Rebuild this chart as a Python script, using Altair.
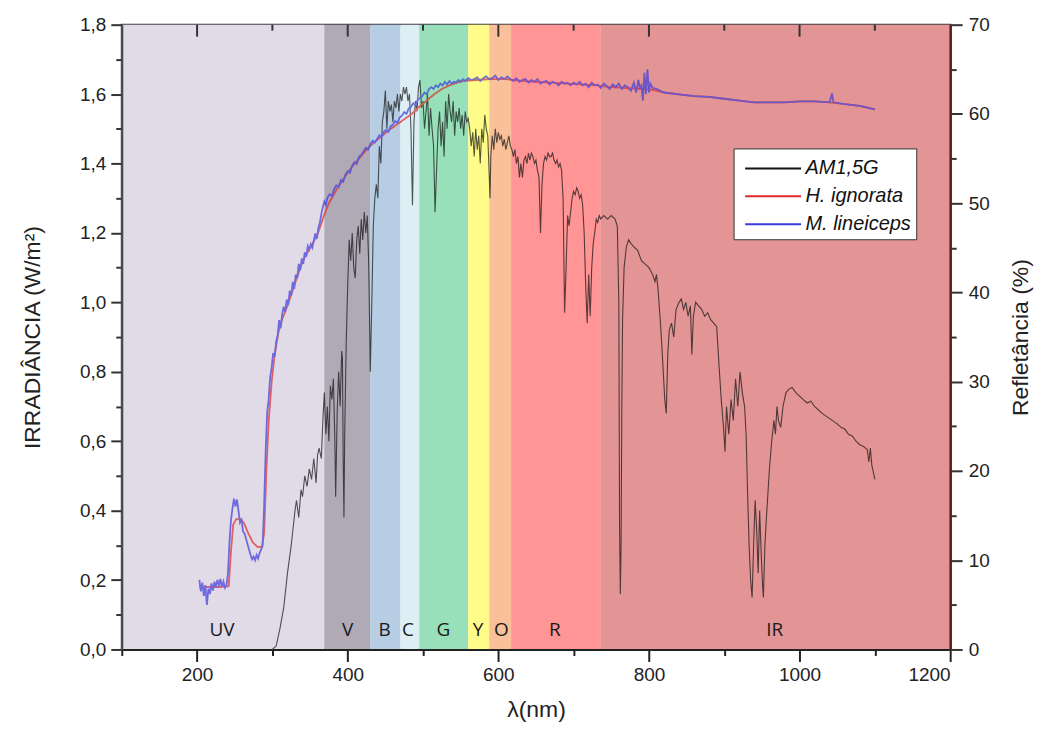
import altair as alt
import pandas as pd

# ---------------- data ----------------
band_names = ["UV", "V", "B", "C", "G", "Y", "O", "R", "IR"]
band_start = [100, 369, 430, 470, 495, 560, 588, 617, 736]
band_end = [369, 430, 470, 495, 560, 588, 617, 736, 1200]
band_colors = ["#e1dae7", "#b1aab7", "#b6cde3", "#dfeef5", "#99e0b9",
               "#fffd8a", "#f9c09a", "#ff9696", "#e39595"]
band_label_x = [233, 400, 449, 480, 527, 573, 604, 675, 967]
band_label_y = 0.057

am_nm = [300, 305, 310, 315, 320, 325, 327, 330, 332, 335, 338, 340, 343, 346, 349, 352, 355, 358, 360, 362,
         365, 367, 369, 371, 373, 375, 377, 379, 381, 383, 384, 386, 388, 390, 392, 393, 394, 395, 396, 398,
         400, 402, 404, 406, 408, 410, 412, 414, 416, 418, 420, 422, 424, 426, 428, 430, 432, 434, 436, 438,
         440, 442, 444, 446, 448, 450, 452, 454, 456, 458, 460, 462, 464, 466, 468, 470, 472, 474, 476, 478,
         480, 482, 484, 486, 488, 490, 492, 494, 496, 498, 500, 502, 504, 506, 508, 510, 512, 514, 516, 518,
         520, 522, 524, 526, 528, 530, 532, 534, 536, 538, 540, 542, 544, 546, 548, 550, 552, 554, 556, 558,
         560, 562, 564, 566, 568, 570, 572, 574, 576, 578, 580, 582, 584, 586, 588, 589, 590, 592, 594, 596,
         598, 600, 602, 604, 606, 608, 610, 612, 614, 616, 618, 620, 622, 624, 626, 628, 630, 632, 634, 636,
         638, 640, 642, 644, 646, 648, 650, 652, 654, 656, 658, 660, 662, 664, 666, 668, 670, 672, 674, 676,
         678, 680, 682, 684, 686, 688, 690, 692, 694, 696, 698, 700, 702, 704, 706, 708, 710, 712, 714, 716,
         718, 720, 722, 724, 726, 728, 730, 732, 734, 736, 740, 745, 750, 755, 758, 760, 761, 762, 763, 764,
         765, 767, 770, 773, 776, 780, 785, 790, 795, 800, 805, 808, 810, 812, 815, 817, 819, 821, 823, 825,
         827, 830, 833, 836, 840, 843, 846, 849, 852, 855, 857, 859, 862, 866, 870, 874, 878, 882, 886, 890,
         893, 896, 899, 901, 903, 906, 909, 912, 915, 918, 921, 924, 927, 929, 931, 933, 935, 937, 939, 941,
         943, 945, 947, 949, 951, 952, 954, 956, 958, 960, 963, 966, 968, 970, 972, 975, 978, 982, 986, 990,
         995, 1000, 1005, 1010, 1015, 1020, 1025, 1030, 1040, 1050, 1055, 1060, 1065, 1070, 1075, 1080, 1085,
         1090, 1092, 1094, 1096, 1098, 1100]
am_val = [0.0, 0.01, 0.06, 0.12, 0.22, 0.30, 0.34, 0.40, 0.43, 0.38, 0.46, 0.44, 0.50, 0.47, 0.52, 0.49, 0.55, 0.48, 0.56, 0.58,
          0.55, 0.66, 0.74, 0.62, 0.70, 0.60, 0.76, 0.72, 0.78, 0.60, 0.44, 0.68, 0.80, 0.70, 0.86, 0.84, 0.55, 0.38, 0.62, 0.88,
          1.05, 1.18, 1.12, 1.20, 1.10, 1.07, 1.18, 1.22, 1.14, 1.24, 1.18, 1.26, 1.20, 1.25, 1.10, 0.80, 1.00, 1.22, 1.30, 1.34,
          1.30, 1.45, 1.40, 1.52, 1.55, 1.61, 1.50, 1.58, 1.55, 1.57, 1.52, 1.58, 1.56, 1.60, 1.55, 1.60, 1.58, 1.62, 1.60, 1.62,
          1.58, 1.60, 1.50, 1.28, 1.52, 1.58, 1.55, 1.62, 1.64, 1.56, 1.58, 1.50, 1.55, 1.60, 1.48, 1.56, 1.50, 1.45, 1.26, 1.38,
          1.50, 1.55, 1.45, 1.52, 1.42, 1.58, 1.50, 1.60, 1.55, 1.52, 1.58, 1.48, 1.55, 1.52, 1.56, 1.50, 1.54, 1.48, 1.55, 1.52,
          1.53, 1.50, 1.45, 1.49, 1.42, 1.50, 1.44, 1.48, 1.40, 1.50, 1.46, 1.54, 1.50, 1.48, 1.36, 1.30, 1.42, 1.48, 1.44, 1.50,
          1.46, 1.49, 1.47, 1.48, 1.45, 1.47, 1.44, 1.46, 1.48, 1.45, 1.44, 1.42, 1.44, 1.40, 1.42, 1.36, 1.40, 1.36, 1.41, 1.42,
          1.40, 1.43, 1.41, 1.43, 1.42, 1.40, 1.41, 1.38, 1.36, 1.20, 1.34, 1.40, 1.42, 1.41, 1.43, 1.42, 1.42, 1.43, 1.41, 1.40,
          1.41, 1.39, 1.40, 1.38, 1.30, 0.97, 1.10, 1.25, 1.22, 1.26, 1.30, 1.32, 1.31, 1.33, 1.32, 1.30, 1.31, 1.28, 1.20, 1.05,
          0.94, 1.08, 0.96, 1.10, 1.17, 1.20, 1.24, 1.23, 1.25, 1.24, 1.25, 1.24, 1.25, 1.24, 1.22, 1.00, 0.35, 0.16, 0.30, 0.70,
          0.95, 1.10, 1.16, 1.18, 1.17, 1.16, 1.15, 1.12, 1.11, 1.10, 1.08, 1.06, 1.08, 1.04, 0.95, 0.88, 0.80, 0.72, 0.68, 0.85,
          0.92, 0.94, 0.90, 0.98, 1.00, 1.01, 0.98, 1.00, 0.96, 0.99, 0.85, 0.96, 1.00, 0.99, 0.98, 0.96, 0.97, 0.95, 0.94, 0.93,
          0.82, 0.72, 0.64, 0.57, 0.70, 0.62, 0.72, 0.66, 0.78, 0.70, 0.80, 0.74, 0.70, 0.62, 0.45, 0.30, 0.20, 0.15, 0.30, 0.43,
          0.35, 0.22, 0.40, 0.28, 0.18, 0.15, 0.30, 0.38, 0.45, 0.52, 0.60, 0.66, 0.62, 0.70, 0.66, 0.64, 0.70, 0.74, 0.75, 0.755,
          0.74, 0.73, 0.72, 0.71, 0.715, 0.70, 0.69, 0.68, 0.665, 0.65, 0.64, 0.635, 0.62, 0.615, 0.60, 0.59, 0.585,
          0.575, 0.54, 0.58, 0.53, 0.51, 0.49]

hi_nm = [203, 215, 230, 242, 245, 248, 252, 258, 262, 268, 274, 280, 286, 289, 292, 295, 299, 303, 308, 313,
         320, 330, 340, 350, 360, 368, 375, 385, 395, 405, 415, 425, 435, 445, 455, 465, 475, 485, 495, 505,
         515, 525, 535, 545, 555, 570, 590, 610, 630, 650, 670, 690, 710, 730, 750, 770, 790, 805, 820, 840,
         860, 880, 900, 920, 940, 960, 980, 1000, 1020, 1040, 1060, 1080, 1100]
hi_val = [7.0, 7.0, 7.0, 7.1, 11.0, 14.0, 14.6, 14.6, 14.2, 13.0, 12.0, 11.5, 11.5, 13.0, 20.0, 25.5, 30.0, 33.0, 35.5, 37.0,
          38.5, 41.0, 43.5, 45.0, 46.5, 48.5, 50.0, 51.5, 52.8, 54.0, 55.0, 56.0, 56.8, 57.5, 58.2, 58.8, 59.4, 60.0, 60.8, 61.5,
          62.2, 62.8, 63.2, 63.5, 63.7, 63.8, 63.9, 63.9, 63.7, 63.6, 63.5, 63.4, 63.3, 63.2, 63.0, 62.9, 62.8, 62.7, 62.4, 62.2,
          62.0, 61.9, 61.7, 61.5, 61.3, 61.3, 61.3, 61.4, 61.4, 61.3, 61.1, 60.9, 60.5]

ml_nm = [203, 205, 207, 209, 211, 213, 215, 217, 219, 221, 223, 225, 227, 229, 231, 233, 235, 237, 239, 241,
         243, 245, 247, 249, 251, 253, 255, 257, 259, 261, 263, 265, 267, 269, 271, 273, 275, 277, 279, 281,
         283, 285, 287, 289, 291, 293, 295, 297, 299, 301, 303, 305, 307, 309, 311, 313, 315, 317, 319, 321,
         323, 325, 327, 329, 331, 333, 335, 337, 339, 341, 343, 345, 347, 349, 351, 353, 355, 357, 359, 361,
         363, 365, 367, 369, 371, 373, 376, 379, 382, 385, 388, 391, 394, 397, 400, 403, 406, 409, 412, 415,
         418, 421, 424, 427, 430, 433, 436, 439, 442, 445, 448, 451, 454, 457, 460, 463, 466, 469, 472, 475,
         478, 481, 484, 487, 490, 493, 496, 499, 502, 505, 508, 511, 514, 517, 520, 523, 526, 529, 532, 535,
         538, 541, 544, 547, 550, 553,
         556, 560, 564, 568, 572, 576, 580, 584, 588, 592, 596, 600, 604, 608, 612, 616, 620, 624, 628, 632,
         636, 640, 644, 648, 652, 656, 660, 664, 668, 672, 676, 680, 684, 688, 692, 696, 700, 704, 708, 712,
         716, 720, 724, 728, 732, 736, 740, 744, 748, 752, 756, 760, 764, 768, 772, 776, 780,
         783, 786, 788, 790, 792, 794, 796, 798, 800, 802, 805,
         810, 820, 840, 860, 880, 900, 920, 940, 960, 980, 1000, 1020, 1040, 1043, 1045, 1060, 1080, 1100]
ml_val = [7.8, 6.5, 7.5, 6.0, 7.2, 5.0, 6.8, 6.2, 7.4, 6.6, 7.6, 7.0, 7.8, 7.2, 7.9, 7.0, 7.6, 6.9, 7.2, 8.5,
          12.0, 14.5, 15.8, 16.9, 16.0, 16.8, 15.5, 14.2, 14.5, 13.2, 13.0, 12.4, 11.8, 11.2, 10.6, 10.1, 10.4, 10.0, 10.6, 10.2,
          10.8, 11.2, 11.6, 16.0, 22.0, 26.5, 28.0, 30.5, 31.6, 33.2, 32.8, 34.5, 35.2, 36.9, 36.0, 37.6, 38.4, 37.8, 39.2, 38.6,
          40.2, 39.6, 41.2, 40.4, 42.0, 41.6, 43.2, 42.5, 43.8, 43.2, 44.5, 44.0, 45.2, 44.8, 45.4, 45.0, 45.8, 46.6, 46.0, 47.2,
          47.8, 48.8, 49.6, 50.2, 49.8, 50.6, 51.0, 50.8, 51.6, 52.0, 51.8, 52.6, 52.4, 53.2, 53.6, 53.4, 54.2, 54.6, 54.4, 55.2,
          55.4, 55.8, 56.2, 56.0, 56.6, 57.0, 56.8, 57.2, 57.6, 57.4, 58.0, 58.2, 58.0, 58.6, 58.8, 59.2, 59.0, 59.6, 59.8, 60.2,
          60.0, 60.6, 60.8, 61.2, 61.0, 61.6, 61.8, 62.0, 62.4, 62.2, 62.8, 63.0, 62.8, 63.2, 63.0, 63.4, 63.2, 63.6, 63.3, 63.7,
          63.4, 63.6, 63.5, 63.8, 63.6, 63.9,
          63.7, 64.0, 63.8, 63.9, 64.1, 63.7, 64.0, 64.2, 63.9, 64.0, 64.3, 63.8, 64.1, 63.9, 64.2, 63.9, 63.7, 64.0, 63.6, 63.8,
          63.9, 63.5, 63.8, 63.6, 63.9, 63.4, 63.6, 63.7, 63.3, 63.6, 63.5, 63.2, 63.6, 63.4, 63.5, 63.2, 63.5, 63.3, 63.6, 63.2,
          63.4, 63.0, 63.5, 63.2, 63.3, 62.9, 63.4, 63.1, 62.8, 63.3, 63.0, 63.4, 62.8, 63.2, 63.0, 62.6, 63.5,
          62.4, 63.8, 62.9, 63.2, 61.5, 64.6, 62.2, 65.0, 62.4, 63.4, 62.9,
          62.8, 62.4, 62.2, 62.0, 61.9, 61.7, 61.5, 61.3, 61.3, 61.3, 61.4, 61.4, 61.3, 62.3, 61.3, 61.1, 60.9, 60.5]

series_names = ["AM1,5G", "H. ignorata", "M. lineiceps"]
series_colors = ["#111111", "#e02a2a", "#3b3bdc"]

left_ticks = [0.0, 0.1, 0.2, 0.3, 0.4, 0.5, 0.6, 0.7, 0.8, 0.9, 1.0, 1.1, 1.2, 1.3, 1.4, 1.5, 1.6, 1.7, 1.8]
right_ticks = [0, 5, 10, 15, 20, 25, 30, 35, 40, 45, 50, 55, 60, 65, 70]
x_ticks = [100, 200, 300, 400, 500, 600, 700, 800, 900, 1000, 1100, 1200]
top_major = [200, 400, 600, 800, 1000]
top_minor = [300, 500, 700, 900, 1100]

# ---------------- tables ----------------
bands = pd.DataFrame({"band": band_names, "start": band_start, "end": band_end,
                      "col": band_colors, "lx": band_label_x})
am = pd.DataFrame({"nm": am_nm, "val": am_val, "series": "AM1,5G"})
refl = pd.concat([
    pd.DataFrame({"nm": hi_nm, "val": hi_val, "series": "H. ignorata", "o": 1}),
    pd.DataFrame({"nm": ml_nm, "val": ml_val, "series": "M. lineiceps", "o": 2}),
])
top_major_df = pd.DataFrame({"nm": top_major})
top_minor_df = pd.DataFrame({"nm": top_minor})

FONT = "Liberation Sans"
xscale = alt.Scale(domain=[100, 1200], nice=False, zero=False)
color = alt.Color("series:N",
                  scale=alt.Scale(domain=series_names, range=series_colors),
                  legend=alt.Legend(title=None, orient="none", legendX=613, legendY=124,
                                    symbolType="M-0.6,0H3.4", symbolSize=784, symbolStrokeWidth=2,
                                    labelFont=FONT, labelFontSize=20, labelFontStyle="italic",
                                    labelColor="#111", strokeColor="#333", fillColor="white",
                                    padding=5, rowPadding=3, labelOffset=37, cornerRadius=0))

x_axis = alt.Axis(title="λ(nm)", values=x_ticks, format="d",
                  labelExpr="datum.value % 200 == 0 ? datum.label : ''",
                  tickSize={"condition": {"test": "datum.value % 200 == 0", "value": 12}, "value": 6},
                  labelFontSize=19, titleFontSize=23, titlePadding=14, labelPadding=4,
                  labelFont=FONT, titleFont=FONT, titleFontWeight="normal",
                  domainColor="#222", domainWidth=2, tickColor="#222", tickWidth=2,
                  labelColor="#222", titleColor="#222", grid=False, zindex=2)

base_bands = alt.Chart(bands).mark_rect().encode(
    x=alt.X("start:Q", scale=xscale, axis=x_axis),
    x2="end:Q",
    fill=alt.Fill("col:N", scale=None),
)

left_axis = alt.Axis(title="IRRADIÂNCIA (W/m²)", values=left_ticks,
                     labelExpr="round(datum.value*10) % 2 == 0 ? replace(format(datum.value, '.1f'), '.', ',') : ''",
                     tickSize={"condition": {"test": "round(datum.value*10) % 2 == 0", "value": 11}, "value": 6},
                     labelFontSize=19, titleFontSize=23, titlePadding=35, labelPadding=5,
                     labelFont=FONT, titleFont=FONT, titleFontWeight="normal",
                     domainColor="#4a4452", domainWidth=2, tickColor="#333", tickWidth=2,
                     labelColor="#222", titleColor="#222", grid=False, zindex=2)

am_line = alt.Chart(am).mark_line(strokeWidth=1.1).encode(
    x=alt.X("nm:Q", scale=xscale),
    y=alt.Y("val:Q", scale=alt.Scale(domain=[0, 1.8], nice=False), axis=left_axis),
    color=color,
)

left_layer = alt.layer(base_bands, am_line)

right_axis = alt.Axis(title="Refletância (%)", orient="right", values=right_ticks,
                      labelExpr="datum.value % 10 == 0 ? datum.label : ''",
                      tickSize={"condition": {"test": "datum.value % 10 == 0", "value": 12}, "value": 6},
                      labelFontSize=19, titleFontSize=23, titlePadding=20, labelPadding=6,
                      titleAngle=270, titleBaseline="top",
                      labelFont=FONT, titleFont=FONT, titleFontWeight="normal",
                      domainColor="#5a1c1c", domainWidth=2.5, tickColor="#333", tickWidth=2,
                      labelColor="#222", titleColor="#222", grid=False, zindex=2)

refl_lines = alt.Chart(refl).mark_line(strokeWidth=1.8).encode(
    x=alt.X("nm:Q", scale=xscale),
    y=alt.Y("val:Q", scale=alt.Scale(domain=[0, 70], nice=False), axis=right_axis),
    color=color,
    detail="series:N",
    order=alt.Order("o:Q"),
)

overlay = alt.Chart(bands).mark_rect(opacity=0.3).encode(
    x=alt.X("start:Q", scale=xscale),
    x2="end:Q",
    fill=alt.Fill("col:N", scale=None),
)

labels = alt.Chart(bands).mark_text(font="Open Sans", fontSize=19, color="#1a1a1a",
                                    baseline="middle").encode(
    x=alt.X("lx:Q", scale=xscale),
    y=alt.Y("y:Q", scale=alt.Scale(domain=[0, 1.8], nice=False), axis=None),
    text="band:N",
).transform_calculate(y=str(band_label_y))

top_ticks_major = alt.Chart(top_major_df).mark_rule(color="#333", strokeWidth=2).encode(
    x=alt.X("nm:Q", scale=xscale),
    y=alt.value(0),
    y2=alt.value(12),
)
top_ticks_minor = alt.Chart(top_minor_df).mark_rule(color="#333", strokeWidth=2).encode(
    x=alt.X("nm:Q", scale=xscale),
    y=alt.value(0),
    y2=alt.value(6),
)

chart = alt.layer(left_layer, refl_lines, overlay, labels, top_ticks_major, top_ticks_minor).resolve_scale(
    y="independent"
).properties(
    width=830, height=626,
    autosize=alt.AutoSizeParams(type="none"),
    padding={"left": 114, "top": 16, "right": 90, "bottom": 90},
).configure_view(stroke="#3a3440", strokeWidth=2)

chart.save("out.html", embed_options={"renderer": "svg", "actions": False})
